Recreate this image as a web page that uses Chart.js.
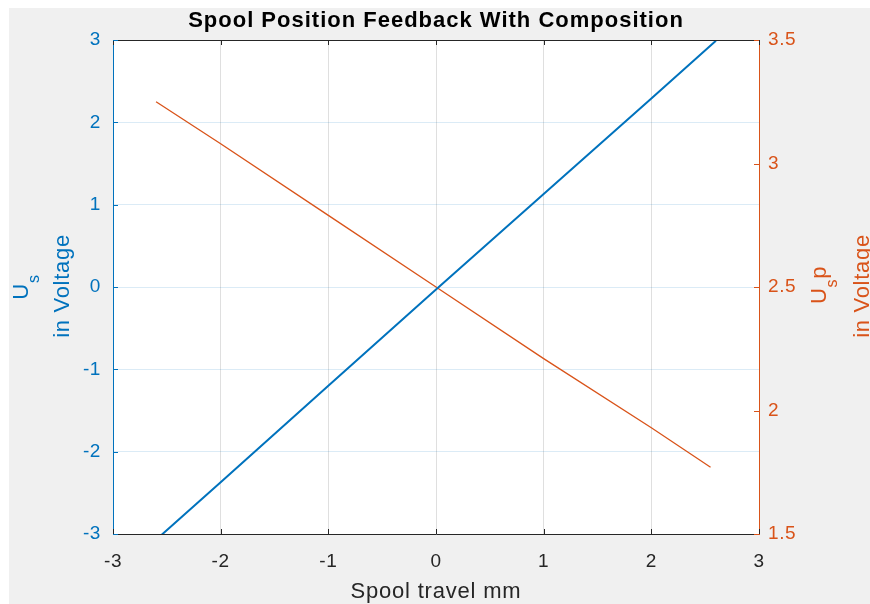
<!DOCTYPE html>
<html>
<head>
<meta charset="utf-8">
<script src="https://cdn.jsdelivr.net/npm/chart.js@4/dist/chart.umd.min.js"></script>
<style>
  html, body { margin: 0; padding: 0; background: #fff; }
  #wrap { width: 870px; height: 604px; }
</style>
</head>
<body>
<div id="wrap"><canvas id="chart" width="870" height="604"></canvas></div>
<script>
// spool travel (mm) and the two feedback voltages
const blueX = [-2.6, -2, -1, 0, 1, 2, 2.6];
const blueY = [-3.07, -2.37, -1.2, -0.03, 1.13, 2.29, 2.99];
const orangeX = [-2.6, -2, -1, 0, 1, 2, 2.55];
const orangeY = [3.25, 3.08, 2.79, 2.5, 2.21, 1.93, 1.77];

const xTicks = [-3, -2, -1, 0, 1, 2, 3];
const leftTicks = [-3, -2, -1, 0, 1, 2, 3];
const rightTicks = [1.5, 2, 2.5, 3, 3.5];

const BLUE = "#0072BD";
const ORANGE = "#D95319";
const DARK = "#262626";
const FONT = "'Liberation Sans', Arial, Helvetica, sans-serif";

function toPoints(xs, ys) {
    return xs.map((x, i) => ({ x: x, y: ys[i] }));
}

function setTicks(values) {
    return function (scale) {
        scale.ticks = values.map(v => ({ value: v }));
    };
}

// plain numbers, "2" not "2.0"
function plain(v) {
    return String(v);
}

// draws a rotated label made of parts, dy pushes a part below the baseline
function rotatedText(ctx, baseX, centerY, parts, color) {
    ctx.save();
    ctx.fillStyle = color;
    ctx.letterSpacing = "0.7px";
    ctx.textBaseline = "alphabetic";
    ctx.textAlign = "left";
    let total = 0;
    parts.forEach(p => {
        ctx.font = p.font;
        p.w = ctx.measureText(p.text).width;
        total += p.w;
    });
    ctx.translate(baseX, centerY);
    ctx.rotate(-Math.PI / 2);
    let u = -total / 2;
    parts.forEach(p => {
        ctx.font = p.font;
        ctx.fillText(p.text, u, p.dy);
        u += p.w;
    });
    ctx.restore();
}

const decor = {
    id: "decor",
    beforeDraw(chart) {
        const ctx = chart.ctx;
        const a = chart.chartArea;
        ctx.save();
        ctx.fillStyle = "#ffffff";
        ctx.fillRect(0, 0, chart.width, chart.height);
        ctx.fillStyle = "#f0f0f0";
        ctx.fillRect(9, 8, chart.width - 9, chart.height - 8);
        ctx.fillStyle = "#ffffff";
        ctx.fillRect(a.left, a.top, a.right - a.left, a.bottom - a.top);
        ctx.restore();
        ctx.letterSpacing = "0.6px";
    },
    afterDraw(chart) {
        const ctx = chart.ctx;
        const a = chart.chartArea;
        const sx = chart.scales.x;
        const sl = chart.scales.y;
        const sr = chart.scales.y2;
        const len = 5;

        ctx.save();
        ctx.lineWidth = 1;
        // top edge of the box
        ctx.strokeStyle = DARK;
        ctx.beginPath();
        ctx.moveTo(a.left, a.top + 0.5);
        ctx.lineTo(a.right, a.top + 0.5);
        ctx.stroke();
        // inward tick marks
        ctx.beginPath();
        xTicks.forEach(v => {
            const px = Math.round(sx.getPixelForValue(v)) + 0.5;
            ctx.moveTo(px, a.bottom);
            ctx.lineTo(px, a.bottom - len);
            ctx.moveTo(px, a.top);
            ctx.lineTo(px, a.top + len);
        });
        ctx.stroke();
        ctx.strokeStyle = BLUE;
        ctx.beginPath();
        leftTicks.forEach(v => {
            const py = Math.round(sl.getPixelForValue(v)) + 0.5;
            ctx.moveTo(a.left, py);
            ctx.lineTo(a.left + len, py);
        });
        ctx.stroke();
        ctx.strokeStyle = ORANGE;
        ctx.beginPath();
        rightTicks.forEach(v => {
            const py = Math.round(sr.getPixelForValue(v)) + 0.5;
            ctx.moveTo(a.right, py);
            ctx.lineTo(a.right - len, py);
        });
        ctx.stroke();

        // title
        const mid = (a.left + a.right) / 2;
        ctx.fillStyle = "#000000";
        ctx.font = "bold 22px " + FONT;
        ctx.letterSpacing = "1px";
        ctx.textAlign = "center";
        ctx.textBaseline = "alphabetic";
        ctx.fillText("Spool Position Feedback With Composition", mid, 27);

        // x axis title
        ctx.fillStyle = DARK;
        ctx.font = "22px " + FONT;
        ctx.letterSpacing = "0.8px";
        ctx.fillText("Spool travel mm", mid, 598);
        ctx.restore();

        // y axis titles
        const big = "22px " + FONT;
        const sub = "16px " + FONT;
        rotatedText(ctx, 28, 287, [
            { text: "U", font: big, dy: 0 },
            { text: "s", font: sub, dy: 11 }
        ], BLUE);
        rotatedText(ctx, 69, 286, [{ text: "in Voltage", font: big, dy: 0 }], BLUE);
        rotatedText(ctx, 826, 285, [
            { text: "U", font: big, dy: 0 },
            { text: "s", font: sub, dy: 11 },
            { text: "p", font: big, dy: 0 }
        ], ORANGE);
        rotatedText(ctx, 869, 286, [{ text: "in Voltage", font: big, dy: 0 }], ORANGE);
    }
};

new Chart(document.getElementById("chart").getContext("2d"), {
    type: "scatter",
    data: {
        datasets: [
            {
                label: "Us",
                data: toPoints(blueX, blueY),
                showLine: true,
                borderColor: BLUE,
                borderWidth: 2,
                pointRadius: 0,
                yAxisID: "y"
            },
            {
                label: "Usp",
                data: toPoints(orangeX, orangeY),
                showLine: true,
                borderColor: ORANGE,
                borderWidth: 1.3,
                pointRadius: 0,
                yAxisID: "y2"
            }
        ]
    },
    options: {
        responsive: false,
        animation: false,
        layout: { padding: { top: 40, left: 0, right: 0, bottom: 0 } },
        plugins: {
            legend: { display: false },
            title: { display: false },
            tooltip: { enabled: false }
        },
        scales: {
            x: {
                type: "linear",
                min: -3,
                max: 3,
                afterBuildTicks: setTicks(xTicks),
                afterFit: s => { s.height = 70; },
                ticks: { color: DARK, font: { size: 19, family: FONT }, padding: 16, maxRotation: 0, callback: plain },
                grid: { color: "rgba(38,38,38,0.15)", drawTicks: false },
                border: { color: DARK, width: 1 }
            },
            y: {
                type: "linear",
                position: "left",
                min: -3,
                max: 3,
                afterBuildTicks: setTicks(leftTicks),
                afterFit: s => { s.width = 113; },
                ticks: { color: BLUE, font: { size: 19, family: FONT }, padding: 12, callback: plain },
                grid: { color: "rgba(0,114,189,0.14)", drawTicks: false },
                border: { color: BLUE, width: 1 }
            },
            y2: {
                type: "linear",
                position: "right",
                min: 1.5,
                max: 3.5,
                afterBuildTicks: setTicks(rightTicks),
                afterFit: s => { s.width = 111; },
                ticks: { color: ORANGE, font: { size: 19, family: FONT }, padding: 9, callback: plain },
                grid: { drawOnChartArea: false, drawTicks: false },
                border: { color: ORANGE, width: 1 }
            }
        }
    },
    plugins: [decor]
});
</script>
</body>
</html>
